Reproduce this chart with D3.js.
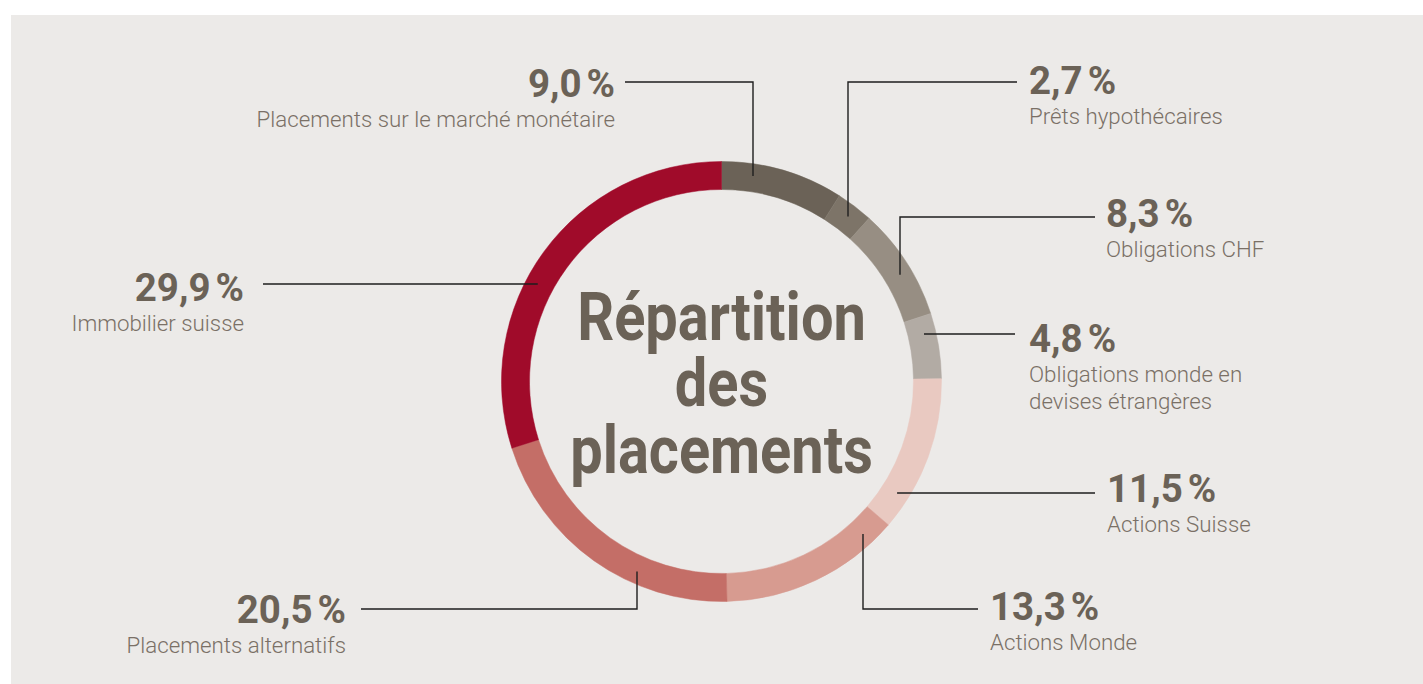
<!DOCTYPE html>
<html>
<head>
<meta charset="utf-8">
<script src="https://cdn.jsdelivr.net/npm/d3@7"></script>
<style>
  html, body { margin: 0; padding: 0; background: #ffffff; }
  svg { display: block; }
</style>
</head>
<body>
<svg width="1423" height="684"></svg>
<script>
// Data
var categories = [
    "Placements sur le marché monétaire",
    "Prêts hypothécaires",
    "Obligations CHF",
    "Obligations monde en|devises étrangères",
    "Actions Suisse",
    "Actions Monde",
    "Placements alternatifs",
    "Immobilier suisse"
];
var values = [9.0, 2.7, 8.3, 4.8, 11.5, 13.3, 20.5, 29.9];
var colors = ["#6b6257", "#7d7468", "#978e83", "#b2aba4", "#e9c9c1", "#d79b90", "#c46e67", "#a00b2a"];
var titleLines = ["Répartition", "des", "placements"];

// Label layout: where the text sits, and how the leader line runs to the ring
// side: "l" text left of line end, "r" text right
// kind: "h" horizontal line only, "v" vertical then horizontal
var labelLayout = [
    { tx: 615, ty: 97,  side: "l", kind: "v", lx: 753, ly: 82,  end: 625 },
    { tx: 1029, ty: 94, side: "r", kind: "v", lx: 848, ly: 82,  end: 1017 },
    { tx: 1106, ty: 227, side: "r", kind: "v", lx: 900, ly: 217, end: 1095 },
    { tx: 1029, ty: 352, side: "r", kind: "h", ly: 334, end: 1015 },
    { tx: 1107, ty: 502, side: "r", kind: "h", ly: 493, end: 1095 },
    { tx: 990, ty: 620, side: "r", kind: "v", lx: 863, ly: 609, end: 978 },
    { tx: 346, ty: 623, side: "l", kind: "v", lx: 637, ly: 609, end: 361 },
    { tx: 244, ty: 301, side: "l", kind: "h", ly: 284, end: 263 }
];

var svg = d3.select("svg");
var W = +svg.attr("width"), H = +svg.attr("height");

// Background panel
svg.append("rect")
    .attr("x", 11).attr("y", 15)
    .attr("width", W - 11).attr("height", H - 15)
    .attr("fill", "#eceae8");

var cx = 721.5, cy = 381.5;
var outerR = 220, innerR = 192, leaderR = 208;

var fr = d3.formatLocale({ decimal: ",", thousands: " ", grouping: [3], currency: ["", ""] });
var fmt = fr.format(".1f");

var data = values.map((v, i) => ({ name: categories[i], value: v, color: colors[i], lay: labelLayout[i] }));

var pie = d3.pie().value(d => d.value).sort(null);
var arc = d3.arc().innerRadius(innerR).outerRadius(outerR);

var chartG = svg.append("g")
    .attr("transform", "translate(" + cx + "," + cy + ")");

chartG.selectAll(".slice")
    .data(pie(data))
    .enter().append("path")
    .attr("class", "slice")
    .attr("d", arc)
    .attr("fill", d => d.data.color)
    .attr("stroke", d => d.data.color)
    .attr("stroke-width", 0.5);

// Title (condensed look)
var titleG = svg.append("g")
    .attr("transform", "translate(" + cx + ",0) scale(0.875,1)");
titleG.selectAll("text")
    .data(titleLines)
    .enter().append("text")
    .attr("x", 0)
    .attr("y", (d, i) => 340 + i * 66.5)
    .attr("text-anchor", "middle")
    .style("font-family", "Roboto, sans-serif")
    .style("font-weight", 700)
    .style("font-size", "66px")
    .attr("fill", "#6b6257")
    .text(d => d);

// Leader lines: compute the point on the ring from the line's x or y
function leaderPath(lay) {
    if (lay.kind === "h") {
        var dy = lay.ly - cy;
        var dx = Math.sqrt(leaderR * leaderR - dy * dy);
        var x0 = lay.side === "r" ? cx + dx : cx - dx;
        return "M" + x0 + "," + lay.ly + "H" + lay.end;
    } else {
        var ddx = lay.lx - cx;
        var ddy = Math.sqrt(leaderR * leaderR - ddx * ddx);
        var y0 = lay.ly < cy ? cy - ddy : cy + ddy;
        return "M" + lay.lx + "," + y0 + "V" + lay.ly + "H" + lay.end;
    }
}

svg.selectAll(".leader")
    .data(data)
    .enter().append("path")
    .attr("class", "leader")
    .attr("d", d => leaderPath(d.lay))
    .attr("fill", "none")
    .attr("stroke", "#1e1e1e")
    .attr("stroke-width", 1.4);

// Labels
var labelG = svg.selectAll(".label")
    .data(data)
    .enter().append("g")
    .attr("class", "label");

var valText = labelG.append("text")
    .attr("x", d => d.lay.tx)
    .attr("y", d => d.lay.ty)
    .attr("text-anchor", d => d.lay.side === "l" ? "end" : "start")
    .style("font-family", "Roboto, sans-serif")
    .style("font-weight", 700)
    .style("font-size", "38.5px")
    .attr("fill", "#6b6257");
valText.append("tspan").text(d => fmt(d.value));
valText.append("tspan").attr("dx", 5).text("%");

labelG.each(function (d) {
    var lines = d.name.split("|");
    d3.select(this).selectAll(".desc")
        .data(lines)
        .enter().append("text")
        .attr("class", "desc")
        .attr("x", d.lay.tx)
        .attr("y", (l, i) => d.lay.ty + 30 + i * 27)
        .attr("text-anchor", d.lay.side === "l" ? "end" : "start")
        .style("font-family", "Roboto, sans-serif")
        .style("font-weight", 300)
        .style("font-size", "22.3px")
        .attr("fill", "#7a7066")
        .text(l => l);
});
</script>
</body>
</html>
